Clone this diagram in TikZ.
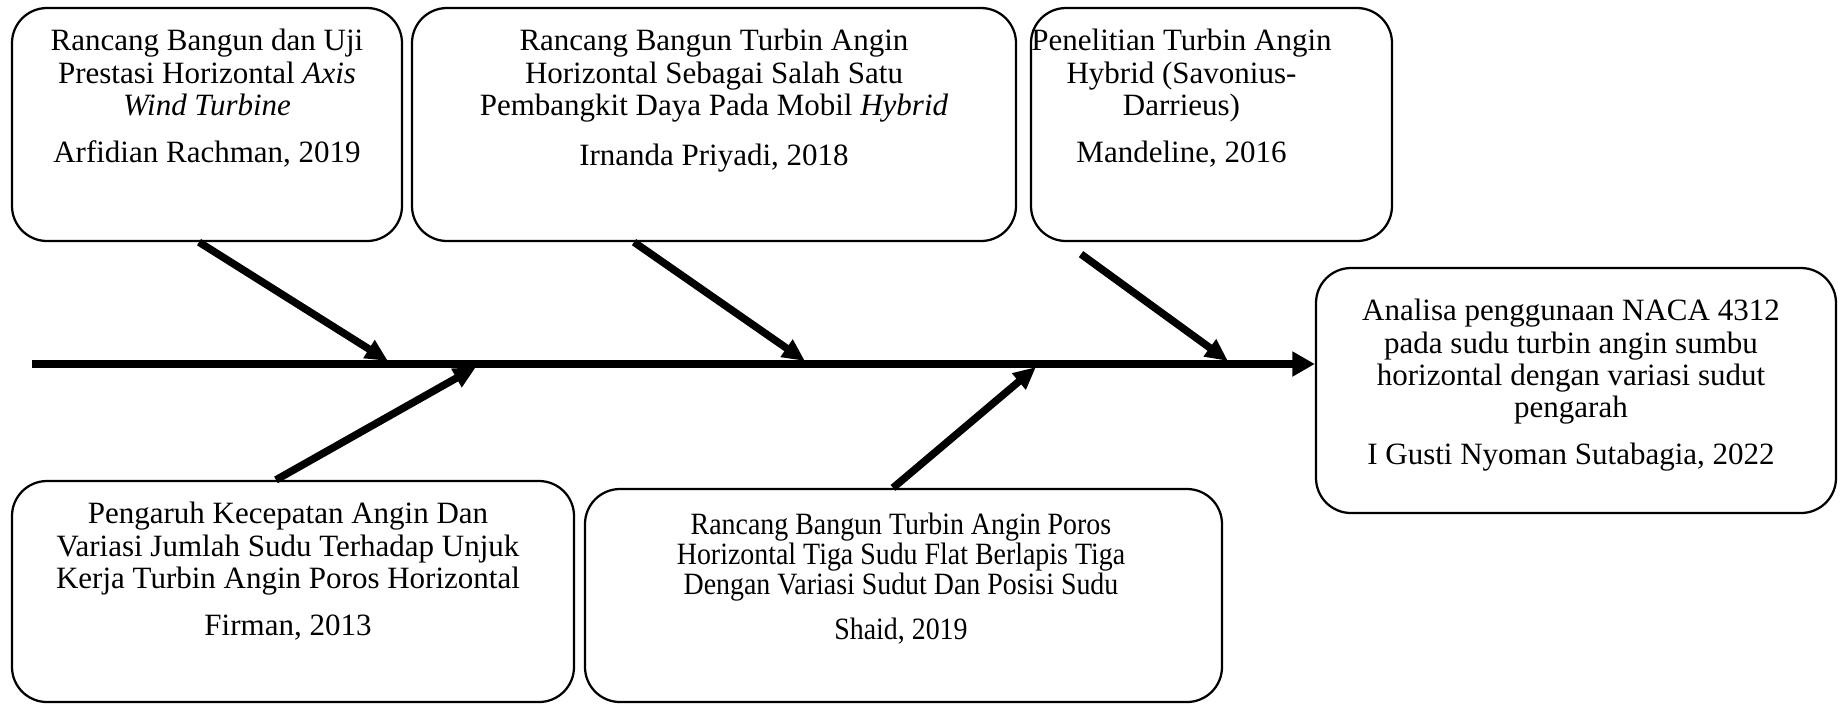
\documentclass[tikz,border=0pt]{standalone}
\usepackage{fontspec}
\setmainfont{Liberation Serif}
\newfontfamily\narrowserif[FakeStretch=0.9]{Liberation Serif}
\usetikzlibrary{arrows.meta,calc,fit,positioning}

\begin{document}
\begin{tikzpicture}[x=0.4pt,y=-0.4pt,
  card/.style={draw,line width=0.9pt,rounded corners=14pt,inner sep=0pt},
  cardtext/.style={align=center,inner sep=0pt,font=\fontsize{12.4}{12.9}\selectfont},
  bone/.style={line width=3pt,-{Triangle[length=9pt,width=8pt]}}]
  \useasboundingbox (0,0) rectangle (1842,703);
  % boxes
  \node[card,fit={(12,8) (402,241)}] (b1) {};
  \node[card,fit={(412,8) (1016,241)}] (b2) {};
  \node[card,fit={(1031,8) (1392,241)}] (b3) {};
  \node[card,fit={(1316,268) (1836,513)}] (res) {};
  \node[card,fit={(12,481) (574,702)}] (b4) {};
  \node[card,fit={(585,489) (1222,702)}] (b5) {};
  % texts
  \node[cardtext,below=8.8pt of b1.north] (t1) {Rancang Bangun dan Uji\\ Prestasi Horizontal \textit{Axis}\\ \textit{Wind Turbine}\\[6pt] Arfidian Rachman, 2019};
  \node[cardtext,below=8.8pt of b2.north] (t2) {Rancang Bangun Turbin Angin\\ Horizontal Sebagai Salah Satu\\ Pembangkit Daya Pada Mobil \textit{Hybrid}\\[7pt] Irnanda Priyadi, 2018};
  \node[cardtext,below=8.8pt of b3.north,xshift=-12pt] (t3) {Penelitian Turbin Angin\\ Hybrid (Savonius-\\ Darrieus)\\[6pt] Mandeline, 2016};
  \node[cardtext,below=12.8pt of res.north,xshift=-2pt] (tres) {Analisa penggunaan NACA 4312\\ pada sudu turbin angin sumbu\\ horizontal dengan variasi sudut\\ pengarah\\[6pt] I Gusti Nyoman Sutabagia, 2022};
  \node[cardtext,below=8.8pt of b4.north,xshift=-2pt] (t4) {Pengaruh Kecepatan Angin Dan\\ Variasi Jumlah Sudu Terhadap Unjuk\\ Kerja Turbin Angin Poros Horizontal\\[6pt] Firman, 2013};
  \node[cardtext,font=\narrowserif\fontsize{12.4}{11.9}\selectfont,below=10pt of b5.north,xshift=-1pt] (t5) {Rancang Bangun Turbin Angin Poros\\ Horizontal Tiga Sudu Flat Berlapis Tiga\\ Dengan Variasi Sudut Dan Posisi Sudu\\[6pt] Shaid, 2019};
  % spine
  \coordinate (tail) at (32,364);
  \draw[line width=3.5pt,-{Triangle[length=9pt,width=9.5pt]}] (tail) -- (tail -| res.west);
  \coordinate (j1) at (388,361);
  \coordinate (j2) at (805,361);
  \coordinate (j3) at (1228,361);
  \coordinate (j4) at (476,367);
  \coordinate (j5) at (1036,367);
  % bones
  \draw[bone] ([xshift=-3.2pt]b1.south) -- (j1);
  \draw[bone] ([xshift=-32pt]b2.south) -- (j2);
  \draw[bone] ([xshift=-52.2pt,yshift=-4.8pt]b3.south) -- (j3);
  \draw[bone] ([xshift=-6.8pt]b4.north) -- (j4);
  \draw[bone] ([xshift=-4.2pt]b5.north) -- (j5);
\end{tikzpicture}
\end{document}
